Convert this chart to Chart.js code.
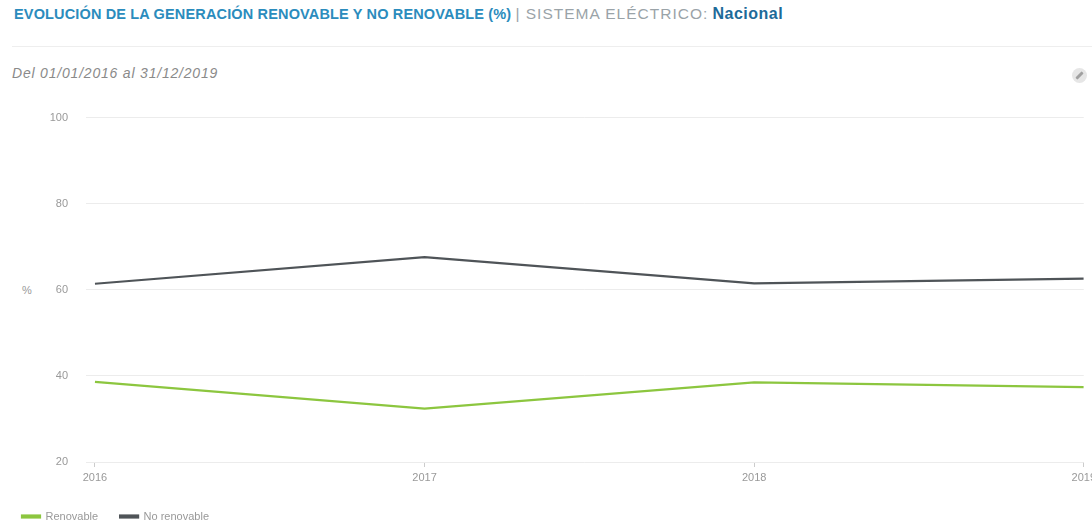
<!DOCTYPE html>
<html>
<head>
<meta charset="utf-8">
<script src="https://cdn.jsdelivr.net/npm/chart.js@4.4.1/dist/chart.umd.min.js"></script>
<style>
    html, body { margin: 0; padding: 0; background: #fff; overflow: hidden; width: 1092px; height: 522px; }
    body { position: relative; font-family: "Liberation Sans", Arial, sans-serif; }
    .titulo { position: absolute; left: 14px; top: 5px; font-size: 14.5px; letter-spacing: 0.15px; white-space: nowrap; color: #2b8cbd; }
    .titulo b { font-weight: bold; }
    .titulo .sep { color: #9aa3a8; font-weight: normal; font-size: 15.5px; letter-spacing: 1px; }
    .titulo .sistema { color: #1d6a99; font-weight: bold; font-size: 16px; letter-spacing: 0.5px; }
    .linea { position: absolute; left: 12px; right: 0; top: 46px; border-top: 1px solid #eeeeee; }
    .fechas { position: absolute; left: 12px; top: 65px; font-size: 14px; letter-spacing: 0.8px; font-style: italic; color: #8a8a8a; }
    .enlace { position: absolute; left: 1072px; top: 68px; width: 15px; height: 15px; border-radius: 8px; background: #e6e6e6; }
    .enlace:after { content: ""; position: absolute; left: 3px; top: 6px; width: 9px; height: 3px; border-radius: 1px; background: #a0a0a0; transform: rotate(-45deg); }
    .eje-y { position: absolute; left: 22px; top: 284px; font-size: 11px; color: #999; }
    .grafico { position: absolute; left: 0; top: 93px; width: 1100px; height: 439px; }
</style>
</head>
<body>
<div class="titulo"><b>EVOLUCIÓN DE LA GENERACIÓN RENOVABLE Y NO RENOVABLE (%)</b> <span class="sep">| SISTEMA ELÉCTRICO:</span> <span class="sistema">Nacional</span></div>
<div class="linea"></div>
<div class="fechas">Del 01/01/2016 al 31/12/2019</div>
<div class="enlace"></div>
<div class="eje-y">%</div>
<div class="grafico"><canvas id="lineCanvas" width="1100" height="439"></canvas></div>

<script>
    // datos
    var years = [2016, 2017, 2018, 2019];
    var renovable = [38.6, 32.4, 38.5, 37.4];
    var noRenovable = [61.4, 67.6, 61.5, 62.6];
    var yTicks = [20, 40, 60, 80, 100];

    var colorVerde = '#8cc63f';
    var colorGris = '#4f5458';

    function puntos(values) {
        return years.map(function (y, i) {
            return { x: y, y: values[i] };
        });
    }

    window.onload = function () {
        var ctx = document.getElementById("lineCanvas").getContext("2d");
        window.myLine = new Chart(ctx, {
            type: 'line',
            data: {
                datasets: [{
                    label: 'Renovable',
                    data: puntos(renovable),
                    borderColor: colorVerde,
                    backgroundColor: colorVerde,
                    borderWidth: 2.2,
                    pointRadius: 0,
                    tension: 0
                }, {
                    label: 'No renovable',
                    data: puntos(noRenovable),
                    borderColor: colorGris,
                    backgroundColor: colorGris,
                    borderWidth: 2.2,
                    pointRadius: 0,
                    tension: 0
                }]
            },
            options: {
                responsive: false,
                animation: false,
                layout: { padding: { top: 0, left: 0, right: 0, bottom: 0 } },
                scales: {
                    x: {
                        type: 'linear',
                        min: years[0] - 9 / 331,
                        max: years[years.length - 1],
                        afterBuildTicks: function (scale) {
                            scale.ticks = years.map(function (v) { return { value: v }; });
                        },
                        afterFit: function (scale) { scale.height = 27; },
                        grid: { drawOnChartArea: false, tickLength: 5, color: '#cccccc' },
                        border: { display: false },
                        ticks: {
                            color: '#999',
                            font: { size: 11, family: 'Liberation Sans' },
                            padding: 4,
                            maxRotation: 0,
                            callback: function (v) { return String(v); }
                        }
                    },
                    y: {
                        min: 20,
                        max: 100,
                        afterBuildTicks: function (scale) {
                            scale.ticks = yTicks.map(function (v) { return { value: v }; });
                        },
                        afterFit: function (scale) { scale.width = 86; },
                        grid: { drawTicks: false, color: '#ececec' },
                        border: { display: false },
                        ticks: {
                            color: '#999',
                            font: { size: 11, family: 'Liberation Sans' },
                            padding: 18
                        }
                    }
                },
                plugins: {
                    legend: {
                        position: 'bottom',
                        align: 'start',
                        labels: {
                            boxWidth: 18,
                            boxHeight: 2,
                            padding: 22,
                            color: '#999',
                            font: { size: 11, family: 'Liberation Sans' }
                        }
                    },
                    tooltip: { enabled: false }
                }
            }
        });
    };
</script>
</body>
</html>
